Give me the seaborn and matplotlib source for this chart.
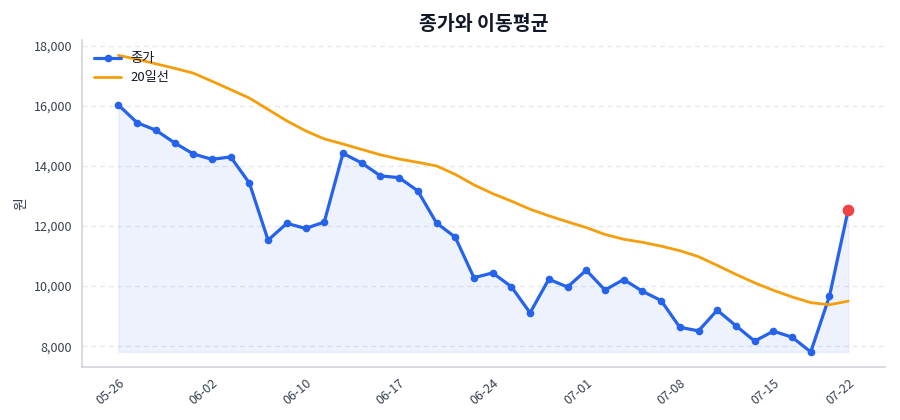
import numpy as np
import pandas as pd
import matplotlib
matplotlib.use("Agg")
import matplotlib.pyplot as plt
import seaborn as sns

dates = ["05-26", "05-27", "05-28", "05-29", "05-30", "06-02", "06-03", "06-04", "06-05", "06-09",
         "06-10", "06-11", "06-12", "06-13", "06-16", "06-17", "06-18", "06-19", "06-20", "06-23",
         "06-24", "06-25", "06-26", "06-27", "06-30", "07-01", "07-02", "07-03", "07-04", "07-07",
         "07-08", "07-09", "07-10", "07-11", "07-14", "07-15", "07-16", "07-17", "07-18", "07-22"]
close = [16030, 15440, 15190, 14770, 14400, 14220, 14300, 13430, 11530, 12090,
         11920, 12130, 14420, 14100, 13670, 13610, 13170, 12100, 11630, 10280,
         10440, 9980, 9110, 10230, 9970, 10530, 9870, 10220, 9830, 9520,
         8630, 8510, 9200, 8680, 8170, 8500, 8300, 7810, 9670, 12540]
ma20 = [17680, 17550, 17400, 17250, 17090, 16820, 16540, 16260, 15880, 15500,
        15170, 14900, 14730, 14550, 14370, 14230, 14120, 14000, 13720, 13370,
        13080, 12830, 12560, 12340, 12140, 11950, 11720, 11560, 11460, 11330,
        11180, 10980, 10690, 10390, 10110, 9860, 9640, 9450, 9380, 9500]

df = pd.DataFrame({"idx": np.arange(len(dates)), "date": dates, "close": close, "ma20": ma20})

sns.set_theme(style="white")
plt.rcParams["font.family"] = ["Noto Sans CJK KR", "DejaVu Sans"]

BLUE = "#2563eb"
ORANGE = "#f59e0b"
RED = "#ef4444"

fig = plt.figure(figsize=(9, 4.2), dpi=100)
ax = fig.add_axes([0.091, 0.126, 0.892, 0.779])

ax.fill_between(df["idx"], df["close"], min(close), color=BLUE, alpha=0.08, linewidth=1)
sns.lineplot(data=df, x="idx", y="close", ax=ax, color=BLUE, linewidth=2.3,
             marker="o", markersize=5.5, markeredgewidth=0, label="종가")
sns.lineplot(data=df, x="idx", y="ma20", ax=ax, color=ORANGE, linewidth=2.0, label="20일선")
ax.scatter([df["idx"].iloc[-1]], [close[-1]], s=55, color=RED, zorder=5)

ticks = list(range(0, len(dates), 5))
if ticks[-1] != len(dates) - 1:
    ticks.append(len(dates) - 1)
ax.set_xticks(ticks)
ax.set_xticklabels([dates[i] for i in ticks], rotation=40, ha="right",
                   rotation_mode="anchor", fontsize=9, color="#374151")
ax.set_yticks([8000, 10000, 12000, 14000, 16000, 18000])
ax.set_yticklabels([f"{v:,}" for v in [8000, 10000, 12000, 14000, 16000, 18000]],
                   fontsize=9, color="#374151")
ax.set_xlim(-1.95, len(dates) - 1 + 1.95)
ax.set_ylim(7305, 18195)

ax.set_xlabel("")
ax.set_ylabel("원", fontsize=10, color="#374151")
ax.set_title("종가와 이동평균", fontsize=14, fontweight="bold", color="#111827", pad=7)

ax.grid(axis="y", linestyle=(0, (4, 3)), color="#e5e7eb", linewidth=0.9)
ax.grid(axis="x", visible=False)
for s in ["top", "right"]:
    ax.spines[s].set_visible(False)
for s in ["left", "bottom"]:
    ax.spines[s].set_color("#d1d5db")
    ax.spines[s].set_linewidth(1.2)
ax.tick_params(axis="both", which="major", length=4, width=1, color="#6b7280", pad=3)

leg = ax.legend(loc="upper left", frameon=False, fontsize=9.5, handlelength=2.0,
                borderaxespad=0.55, labelspacing=0.45, handletextpad=0.7)
for t in leg.get_texts():
    t.set_color("#111827")

fig.savefig("out.png", dpi=100)
